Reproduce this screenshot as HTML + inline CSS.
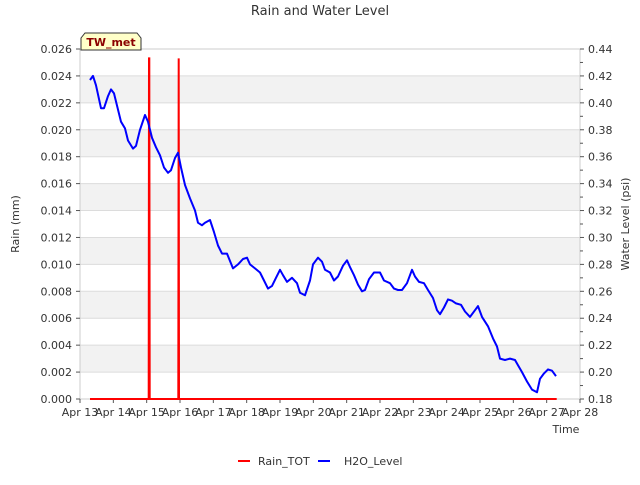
<!DOCTYPE html>
<html><head><meta charset="utf-8"><style>
body{margin:0;background:#fff;font-family:"Liberation Sans","DejaVu Sans",sans-serif}
svg text{font-family:"DejaVu Sans","Liberation Sans",sans-serif;fill:#333}
</style></head><body>
<svg id="c" width="640" height="480"></svg>
<script>
const dayLabels=["Apr 13","Apr 14","Apr 15","Apr 16","Apr 17","Apr 18","Apr 19","Apr 20","Apr 21","Apr 22","Apr 23","Apr 24","Apr 25","Apr 26","Apr 27","Apr 28"];
const rainTicks=[0,0.002,0.004,0.006,0.008,0.010,0.012,0.014,0.016,0.018,0.020,0.022,0.024,0.026];
const levelTicks=[0.18,0.20,0.22,0.24,0.26,0.28,0.30,0.32,0.34,0.36,0.38,0.40,0.42,0.44];
const levelDays=[.30,.39,.48,.63,.72,.84,.93,1.02,1.14,1.23,1.35,1.44,1.59,1.68,1.80,1.95,2.04,2.16,2.28,2.40,2.52,2.64,2.73,2.85,2.94,3.03,3.15,3.30,3.45,3.54,3.66,3.75,3.90,4.02,4.14,4.26,4.41,4.59,4.74,4.89,5.01,5.10,5.25,5.40,5.52,5.64,5.76,5.88,6.00,6.09,6.21,6.36,6.51,6.60,6.75,6.90,6.99,7.14,7.26,7.35,7.50,7.62,7.74,7.89,8.01,8.10,8.22,8.34,8.46,8.55,8.67,8.82,9.00,9.12,9.30,9.42,9.54,9.66,9.81,9.96,10.05,10.17,10.32,10.44,10.59,10.71,10.80,10.92,11.04,11.16,11.28,11.43,11.55,11.70,11.85,11.94,12.06,12.24,12.39,12.51,12.60,12.75,12.90,13.05,13.14,13.26,13.41,13.56,13.71,13.80,13.92,14.04,14.16,14.28];
const levelValues=[.417,.420,.413,.396,.396,.405,.410,.407,.395,.386,.381,.372,.366,.368,.380,.391,.386,.374,.367,.361,.352,.348,.350,.359,.363,.352,.339,.329,.320,.311,.309,.311,.313,.304,.294,.288,.288,.277,.280,.284,.285,.280,.277,.274,.268,.262,.264,.270,.276,.272,.267,.270,.266,.259,.257,.268,.280,.285,.282,.276,.274,.268,.271,.279,.283,.278,.272,.265,.260,.261,.269,.274,.274,.268,.266,.262,.261,.261,.266,.276,.271,.267,.266,.261,.255,.246,.243,.248,.254,.253,.251,.250,.245,.241,.246,.249,.241,.234,.225,.219,.210,.209,.210,.209,.205,.200,.193,.187,.185,.195,.199,.202,.201,.197];
const rainDays=[0.30,2.06,2.07,2.08,2.09,2.95,2.96,2.97,14.30];
const rainValues=[0,0,0.0253,0.0253,0,0,0.0253,0,0];
const L=80,R=580,T=49,B=399;
const x=d=>L+d/15*(R-L);
const yL=v=>B-v/0.026*(B-T);
const yR=v=>B-(v-0.18)/0.26*(B-T);
const svg=document.getElementById('c');const NS='http://www.w3.org/2000/svg';
function mk(t,a,p){const e=document.createElementNS(NS,t);for(const k in a)e.setAttribute(k,a[k]);(p||svg).appendChild(e);return e;}
let e;
for(let i=0;i<13;i++){ if(i%2===1){e=mk('rect',{x:L,y:yR(levelTicks[i+1]),width:R-L,height:yR(levelTicks[i])-yR(levelTicks[i+1]),fill:'#f2f2f2'});

}}
levelTicks.forEach(v=>{e=mk('line',{x1:L,x2:R,y1:yR(v),y2:yR(v),stroke:'#dcdcdc'});

});
e=mk('rect',{x:L,y:T,width:R-L,height:B-T,fill:'none',stroke:'#ccc'});


rainTicks.forEach(v=>{mk('line',{x1:L-4,x2:L,y1:yL(v),y2:yL(v),stroke:'#555'});
e=mk('text',{x:L-8,y:yL(v)+4,'text-anchor':'end','font-size':11});e.textContent=v.toFixed(3);

});
levelTicks.forEach((v,i)=>{mk('line',{x1:R,x2:R+4,y1:yR(v),y2:yR(v),stroke:'#555'});
if(i<13)mk('line',{x1:R,x2:R+3,y1:yR(v+0.01),y2:yR(v+0.01),stroke:'#555'});
e=mk('text',{x:R+8,y:yR(v)+4,'font-size':11});e.textContent=v.toFixed(2);

});
dayLabels.forEach((s,i)=>{mk('line',{x1:x(i),x2:x(i),y1:B,y2:B+4,stroke:'#555'});
e=mk('text',{x:x(i),y:B+17,'text-anchor':'middle','font-size':11});e.textContent=s;

});
e=mk('path',{d:rainDays.map((d,i)=>(i?'L':'M')+x(d).toFixed(1)+','+yL(rainValues[i]).toFixed(1)).join(''),fill:'none',stroke:'#ff0000','stroke-width':2});


e=mk('path',{d:levelDays.map((d,i)=>(i?'L':'M')+x(d).toFixed(1)+','+yR(levelValues[i]).toFixed(1)).join(''),fill:'none',stroke:'#0000ff','stroke-width':2,'stroke-linejoin':'round'});


e=mk('text',{x:320,y:15,'text-anchor':'middle','font-size':13});e.textContent='Rain and Water Level';


e=mk('text',{x:19,y:224,'text-anchor':'middle','font-size':11,transform:'rotate(-90 19 224)'});e.textContent='Rain (mm)';


e=mk('text',{x:629,y:224,'text-anchor':'middle','font-size':11,transform:'rotate(-90 629 224)'});e.textContent='Water Level (psi)';


e=mk('text',{x:566,y:433,'text-anchor':'middle','font-size':11});e.textContent='Time';


e=mk('path',{d:'M81,50 L81,38 L85,33 L137,33 L141,38 L141,50 Z',fill:'#ffffc8',stroke:'#333'});


e=mk('text',{x:111,y:46,'text-anchor':'middle','font-size':11,'font-weight':'bold',style:'fill:#8b0000'});e.textContent='TW_met';


e=mk('line',{x1:238,x2:250,y1:461,y2:461,stroke:'#ff0000','stroke-width':2});


e=mk('text',{x:258,y:465,'font-size':11});e.textContent='Rain_TOT';


e=mk('line',{x1:318,x2:330,y1:461,y2:461,stroke:'#0000ff','stroke-width':2});


e=mk('text',{x:344,y:465,'font-size':11});e.textContent='H2O_Level';


</script>
</body></html>
